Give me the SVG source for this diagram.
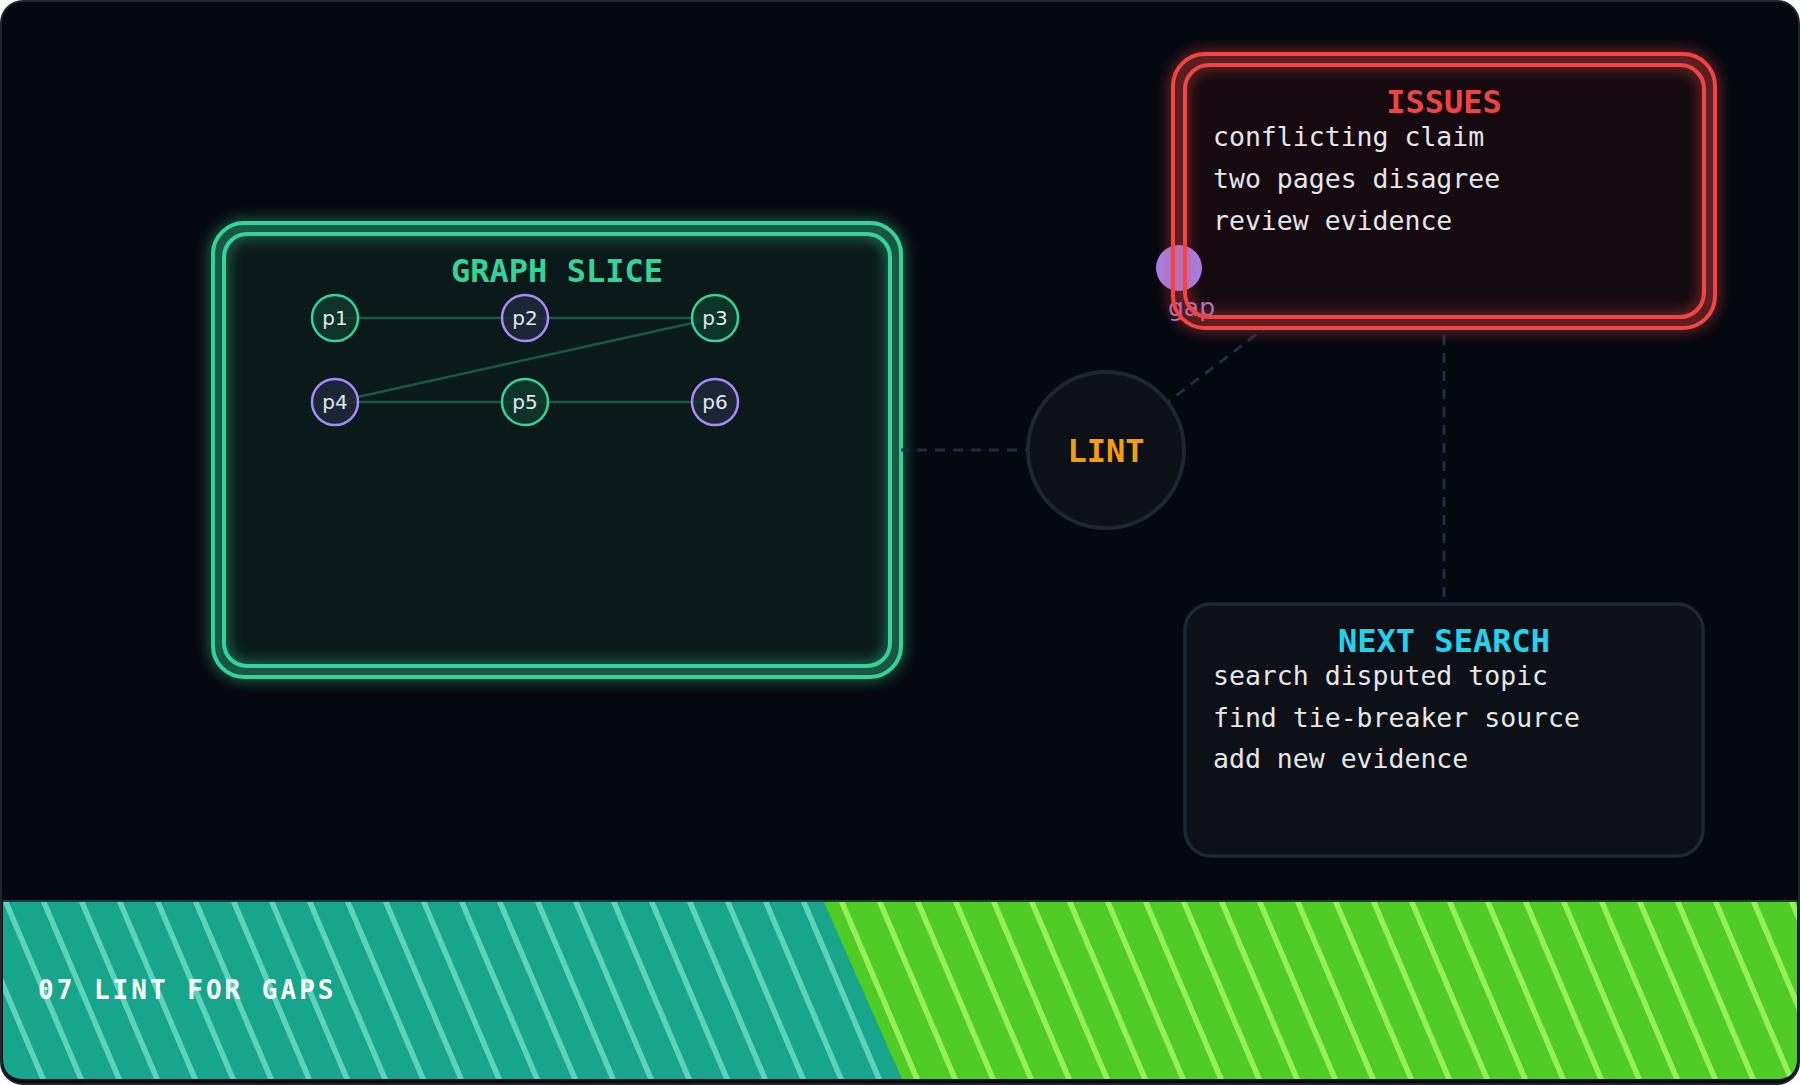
<svg xmlns="http://www.w3.org/2000/svg" width="1800" height="1085" viewBox="0 0 1800 1085">
<style>
.mono{font-family:"DejaVu Sans Mono","Liberation Mono",monospace}
.title{font-family:"DejaVu Sans Mono","Liberation Mono",monospace;font-weight:bold;font-size:32px;text-anchor:middle}
.body{font-family:"DejaVu Sans Mono","Liberation Mono",monospace;font-size:26.5px;fill:#e5e7eb}
.plabel{font-family:"DejaVu Sans","Liberation Sans",sans-serif;font-size:20px;fill:#e2e8f0;text-anchor:middle}
.dash{stroke:#1d2e40;stroke-width:3;stroke-dasharray:10 8;fill:none}
.edge{stroke:#34d399;stroke-opacity:0.35;stroke-width:2.5}
.pg{fill:#0f3a2b;fill-opacity:0.8;stroke:#34d399;stroke-width:2.5}
.pp{fill:#1e293b;fill-opacity:0.85;stroke:#a78bfa;stroke-width:2.5}
</style>
<defs>
<filter id="glowG" x="-20%" y="-20%" width="140%" height="140%">
<feGaussianBlur in="SourceGraphic" stdDeviation="7" result="b"/>
<feMerge><feMergeNode in="b"/><feMergeNode in="SourceGraphic"/></feMerge>
</filter>
<pattern id="stT" patternUnits="userSpaceOnUse" width="38" height="38" patternTransform="skewX(23)">
<rect width="38" height="38" fill="#17a68b"/>
<rect x="0" width="6" height="38" fill="#5dd3be"/>
</pattern>
<pattern id="stG" patternUnits="userSpaceOnUse" width="38" height="38" patternTransform="skewX(23)">
<rect width="38" height="38" fill="#4fcc26"/>
<rect x="0" width="6" height="38" fill="#95f05c"/>
</pattern>
<clipPath id="bannerClip">
<path d="M3,902 H1797 V1058 Q1797,1079 1776,1079 H24 Q3,1079 3,1058 Z"/>
</clipPath>
</defs>

<rect x="1" y="1" width="1798" height="1083" rx="22" fill="#05080f" stroke="#1e2630" stroke-width="2"/>

<g id="graph-slice">
<rect x="213" y="223" width="688" height="454" rx="31" fill="#0a1a1a"/>
<g filter="url(#glowG)" fill="none" stroke="#34d399" stroke-width="4">
<rect x="213" y="223" width="688" height="454" rx="31"/>
<rect x="224" y="234" width="666" height="432" rx="23"/>
</g>
<text class="title" x="557" y="282" fill="#34d399">GRAPH SLICE</text>
</g>

<g id="connectors">
<line class="dash" x1="901" y1="450" x2="1105" y2="450" stroke-dashoffset="2"/>
<line class="dash" x1="1105" y1="450" x2="1444" y2="191"/>
<line class="dash" x1="1444" y1="191" x2="1444" y2="730"/>
<line class="edge" x1="335" y1="318" x2="525" y2="318"/>
<line class="edge" x1="525" y1="318" x2="715" y2="318"/>
<line class="edge" x1="335" y1="402" x2="715" y2="318"/>
<line class="edge" x1="335" y1="402" x2="525" y2="402"/>
<line class="edge" x1="525" y1="402" x2="715" y2="402"/>
</g>

<g id="p1"><circle class="pg" cx="335" cy="318" r="23"/><text class="plabel" x="335" y="325">p1</text></g>
<g id="p2"><circle class="pp" cx="525" cy="318" r="23"/><text class="plabel" x="525" y="325">p2</text></g>
<g id="p3"><circle class="pg" cx="715" cy="318" r="23"/><text class="plabel" x="715" y="325">p3</text></g>
<g id="p4"><circle class="pp" cx="335" cy="402" r="23"/><text class="plabel" x="335" y="409">p4</text></g>
<g id="p5"><circle class="pg" cx="525" cy="402" r="23"/><text class="plabel" x="525" y="409">p5</text></g>
<g id="p6"><circle class="pp" cx="715" cy="402" r="23"/><text class="plabel" x="715" y="409">p6</text></g>

<g id="lint">
<circle cx="1106" cy="450" r="78" fill="#0d1117" stroke="#1c2730" stroke-width="4"/>
<text class="title" x="1106" y="462" fill="#f59e0b">LINT</text>
</g>

<g id="issues">
<rect x="1173" y="54" width="542" height="274" rx="32" fill="#150a10"/>
<circle cx="1179" cy="268" r="23" fill="#a77ee4"/>
<text x="1168" y="316" font-family="DejaVu Sans, Liberation Sans, sans-serif" font-size="25" fill="#a07ad8">gap</text>
<g filter="url(#glowG)" fill="none" stroke="#ef4444" stroke-width="4">
<rect x="1173" y="54" width="542" height="274" rx="32"/>
<rect x="1185" y="65" width="519" height="252" rx="24"/>
</g>
<text class="title" x="1444" y="113" fill="#ef4444">ISSUES</text>
<text class="body" x="1213" y="146">conflicting claim</text>
<text class="body" x="1213" y="188">two pages disagree</text>
<text class="body" x="1213" y="230">review evidence</text>
</g>

<g id="next-search">
<rect x="1185" y="604" width="518" height="252" rx="26" fill="#0d1117" stroke="#1c2730" stroke-width="3.5"/>
<text class="title" x="1444" y="652" fill="#22d3ee">NEXT SEARCH</text>
<text class="body" x="1213" y="685">search disputed topic</text>
<text class="body" x="1213" y="727">find tie-breaker source</text>
<text class="body" x="1213" y="768">add new evidence</text>
</g>

<g id="banner">
<line x1="3" y1="901" x2="1797" y2="901" stroke="#2a3440" stroke-width="2"/>
<g clip-path="url(#bannerClip)">
<rect x="3" y="902" width="1794" height="177" fill="url(#stT)"/>
<path d="M824,902 L1797,902 L1797,1079 L902,1079 Z" fill="url(#stG)"/>
</g>
<text class="mono" x="38" y="999" font-size="26" font-weight="bold" letter-spacing="3" fill="#ffffff">07 LINT FOR GAPS</text>
</g>
</svg>
